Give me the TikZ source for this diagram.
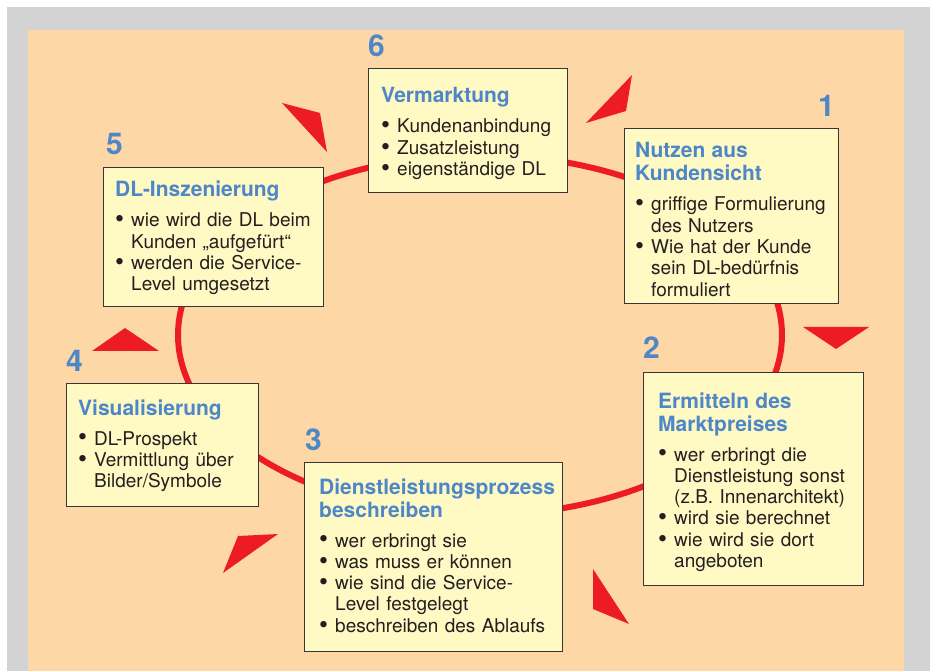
\documentclass[tikz,border=0pt]{standalone}
\usepackage{fontspec}
\setmainfont{TeX Gyre Heros}
\usepackage{graphicx}
\usepackage{tikz}
\usetikzlibrary{positioning}
\definecolor{dlblau}{RGB}{78,135,200}
\definecolor{dlrot}{RGB}{237,28,36}
\definecolor{dlorange}{RGB}{253,215,165}
\definecolor{dlgrau}{RGB}{211,211,211}
\definecolor{dlgelb}{RGB}{255,249,196}
\definecolor{dlrand}{RGB}{55,55,55}
\definecolor{dltext}{RGB}{35,31,32}
\newcommand{\pkt}[1]{\par\hangindent=16pt\hangafter=1\noindent
	\makebox[16pt][l]{\raisebox{-0.8pt}{\scalebox{1.35}{\textbullet}}}#1\par}
\newcommand{\titel}[1]{{\fontsize{21}{23}\selectfont\bfseries\leavevmode\color{dlblau}#1\par}\vspace{8.7pt}}

\begin{document}
\begin{tikzpicture}[x=1pt,y=-1pt,
	rahmen/.style={draw=dlrand, line width=1pt, fill=dlgelb, anchor=north west, inner sep=0pt},
	inhalt/.style={anchor=base west, inner sep=0pt, align=left, text=dltext, font=\fontsize{19}{21.3}\selectfont},
	nummer/.style={inner sep=0pt, text=dlblau, font=\fontsize{30}{30}\selectfont\bfseries},
	kreis/.style={draw=dlrot, line width=6pt},
	pfeil/.style={fill=dlrot}]
	\useasboundingbox (0,0) rectangle (930,671);
	% Hintergrund
	\fill[dlgrau] (7,7) rectangle (930,671);
	\fill[dlorange] (28,30) rectangle (904,671);
	% Kreislauf
	\draw[kreis] (480,335) ellipse [x radius=302pt, y radius=180pt];
	\fill[pfeil] (632,75) -- (586,123) -- (626,111) -- cycle;
	\fill[pfeil] (282,103) -- (320,113) -- (327,152) -- cycle;
	\fill[pfeil] (803,327) -- (869,327) -- (836,349) -- cycle;
	\fill[pfeil] (92,351) -- (159,351) -- (125,328) -- cycle;
	\fill[pfeil] (238,536) -- (278,534) -- (223,573) -- cycle;
	\fill[pfeil] (593,569) -- (593,609) -- (629,624) -- cycle;
	
	% Kaesten
	\node[rahmen, minimum width=214pt, minimum height=175pt] (b1) at (624,128) {};
	\node[inhalt, text width=203pt] (t1) at ([shift={(11,30)}]b1.north west)
		{\titel{Nutzen aus\newline Kundensicht}\pkt{griffige Formulierung\newline des Nutzers}\pkt{Wie hat der Kunde\newline sein DL-bedürfnis\newline formuliert}};
	\node[nummer, above left=11pt and 4pt of b1.north east] (n1) {1};
	
	\node[rahmen, minimum width=220pt, minimum height=213pt] (b2) at (643,372) {};
	\node[inhalt, text width=205pt] (t2) at ([shift={(15,36)}]b2.north west)
		{\titel{Ermitteln des\newline Marktpreises}\pkt{wer erbringt die\newline Dienstleistung sonst\newline (z.B. Innenarchitekt)}\pkt{wird sie berechnet}\pkt{wie wird sie dort\newline angeboten}};
	\node[nummer, above right=13pt and 0pt of b2.north west] (n2) {2};
	
	\node[rahmen, minimum width=258pt, minimum height=189pt] (b3) at (304,462) {};
	\node[inhalt, text width=243pt] (t3) at ([shift={(15,32)}]b3.north west)
		{\titel{Dienstleistungsprozess\newline beschreiben}\pkt{wer erbringt sie}\pkt{was muss er können}\pkt{wie sind die Service-\newline Level festgelegt}\pkt{beschreiben des Ablaufs}};
	\node[nummer, above right=11pt and 1pt of b3.north west] (n3) {3};
	
	\node[rahmen, minimum width=192pt, minimum height=123pt] (b4) at (66,383) {};
	\node[inhalt, text width=180pt] (t4) at ([shift={(12,32)}]b4.north west)
		{\titel{Visualisierung}\pkt{DL-Prospekt}\pkt{Vermittlung über\newline Bilder/Symbole}};
	\node[nummer, above right=11pt and 0pt of b4.north west] (n4) {4};
	
	\node[rahmen, minimum width=220pt, minimum height=139pt] (b5) at (103,167) {};
	\node[inhalt, text width=208pt] (t5) at ([shift={(12,30)}]b5.north west)
		{\titel{DL-Inszenierung}\pkt{wie wird die DL beim\newline Kunden „aufgefürt“}\pkt{werden die Service-\newline Level umgesetzt}};
	\node[nummer, above right=12pt and 3pt of b5.north west] (n5) {5};
	
	\node[rahmen, minimum width=199pt, minimum height=124pt] (b6) at (368,68) {};
	\node[inhalt, text width=186pt] (t6) at ([shift={(13,35)}]b6.north west)
		{\titel{Vermarktung}\pkt{Kundenanbindung}\pkt{Zusatzleistung}\pkt{eigenständige DL}};
	\node[nummer, above right=11pt and 0pt of b6.north west] (n6) {6};
\end{tikzpicture}
\end{document}
